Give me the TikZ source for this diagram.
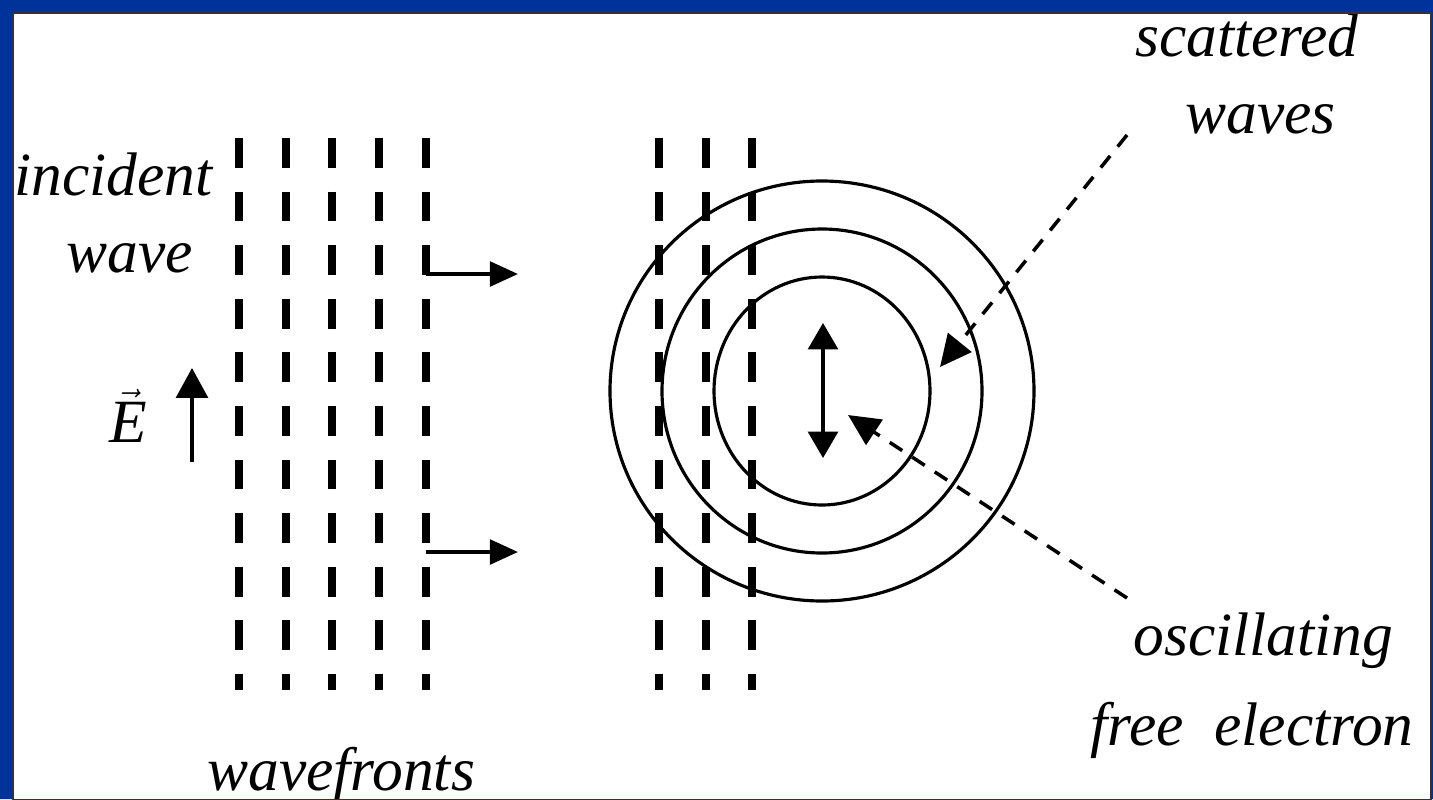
\documentclass[tikz,border=0pt]{standalone}
\usepackage{fontspec}
\setmainfont{Liberation Serif}
\usepackage{tikz}
\usetikzlibrary{arrows.meta}
\definecolor{frameblue}{RGB}{0,51,153}

\begin{document}
\begin{tikzpicture}[x=0.02cm, y=-0.02cm,
  every node/.style={font=\itshape\fontsize{35}{40}\selectfont, inner sep=0pt},
  front/.style={line width=4.5pt, dash pattern=on 17pt off 13.5pt},
  ring/.style={line width=1.8pt},
  prop/.style={line width=2.2pt, -{Triangle[length=16pt,width=14pt]}},
  pointer/.style={line width=2pt, dash pattern=on 8.5pt off 6.8pt, -{Triangle[length=18pt,width=17pt]}}]
  \useasboundingbox (0,0) rectangle (1433,799);
  \fill[white] (0,0) rectangle (1433,799);
  % incoming wavefronts
  \foreach \x in {239,286,332,379,426}
    \draw[front] (\x,138) -- (\x,690);
  % wavefronts at the electron
  \foreach \x in {659,706,752}
    \draw[front] (\x,138) -- (\x,690);
  % scattered waves
  \coordinate (electron) at (822,391);
  \draw[ring] (electron) circle [x radius=212, y radius=210];
  \draw[ring] (electron) circle [x radius=160, y radius=162];
  \draw[ring] (electron) circle [x radius=108, y radius=114];
  % electron motion
  \coordinate (osctop) at (823,323);
  \coordinate (oscbot) at (823,458);
  \draw[line width=1.8pt, {Triangle[length=15pt,width=17pt]}-{Triangle[length=15pt,width=17pt]}] (osctop) -- (oscbot);
  % propagation
  \coordinate (proptail1) at (426,274);
  \coordinate (prophead1) at (518,274);
  \coordinate (proptail2) at (426,552);
  \coordinate (prophead2) at (518,552);
  \draw[prop] (proptail1) -- (prophead1);
  \draw[prop] (proptail2) -- (prophead2);
  % field direction
  \coordinate (etail) at (192,462);
  \coordinate (ehead) at (192,368);
  \draw[prop, -{Triangle[length=17pt,width=18pt]}] (etail) -- (ehead);
  \node[anchor=base] (efield) at (128,442) {$\vec{\mbox{\itshape E}}$};
  % labels
  \node[anchor=base east] (incident) at (213,195) {incident};
  \node[anchor=base east] (wave) at (193,272) {wave};
  \node[anchor=base west] (wavefronts) at (207,790) {wavefronts};
  \node[anchor=base west] (scattered) at (1135,56) {scattered};
  \node[anchor=base west] (waves) at (1185,133) {waves};
  \node[anchor=base west] (oscillating) at (1133,655) {oscillating};
  \node[anchor=base west] (freeel) at (1090,745) {free\ \ electron};
  % pointers
  \coordinate (scatfrom) at (1127,135);
  \coordinate (scatto) at (940,367);
  \coordinate (oscfrom) at (1127,598);
  \coordinate (oscto) at (848,415);
  \draw[pointer] (scatfrom) -- (scatto);
  \draw[pointer] (oscfrom) -- (oscto);
  % frame
  \fill[frameblue, even odd rule] (0,0) rectangle (1433,799) (13,13) rectangle (1431,810);
  \draw[black!80, line width=1.2pt] (13,810) -- (13,13) -- (1431,13) -- (1431,810);
\end{tikzpicture}
\end{document}
